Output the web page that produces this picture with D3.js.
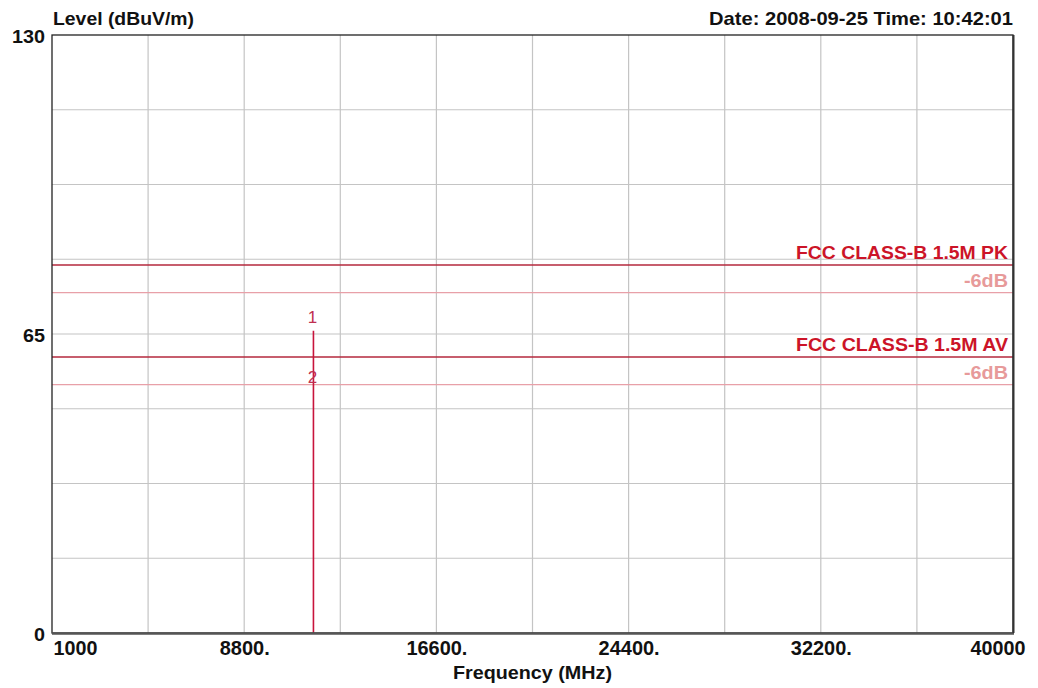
<!DOCTYPE html>
<html><head><meta charset="utf-8">
<script src="https://cdn.jsdelivr.net/npm/d3@7"></script>
<style>
html,body{margin:0;padding:0;background:#fff;}
svg{display:block;font-family:"Liberation Sans",Arial,sans-serif;}
</style></head><body>
<script>
// ---- data ----
const freqDomain = [1000, 40000];
const levelDomain = [0, 130];
const xTickValues = [1000, 8800, 16600, 24400, 32200, 40000];
const xTickLabels = ["1000", "8800.", "16600.", "24400.", "32200.", "40000"];
const xGridValues = [4900, 8800, 12700, 16600, 20500, 24400, 28300, 32200, 36100];
const yTickValues = [0, 65, 130];
const yTickLabels = ["0", "65", "130"];
const yGridValues = [16.25, 32.5, 48.75, 65, 81.25, 97.5, 113.75];
const limitNames = ["FCC CLASS-B 1.5M PK", "-6dB", "FCC CLASS-B 1.5M AV", "-6dB"];
const limitLevels = [80, 74, 60, 54];
const limitKinds = ["main", "margin", "main", "margin"];
const traceFreq = [11610, 11610];
const traceLevel = [0, 65.7];
const markerIds = ["1", "2"];
const markerFreq = [11610, 11610];
const markerLevel = [65.7, 52.6];
const titleY = "Level (dBuV/m)";
const titleX = "Frequency (MHz)";
const dateText = "Date: 2008-09-25  Time: 10:42:01";

// ---- layout ----
const W = 1038, H = 688;
const m = {left: 52, top: 35, right: 25, bottom: 55};
const pw = W - m.left - m.right, ph = H - m.top - m.bottom;

const svg = d3.select("body").append("svg").attr("width", W).attr("height", H);
const g = svg.append("g").attr("transform", `translate(${m.left},${m.top})`);

const x = d3.scaleLinear().domain(freqDomain).range([0, pw]);
const y = d3.scaleLinear().domain(levelDomain).range([ph, 0]);

// approximate label width: digits 11px, period 6px
const labelWidth = s => s.split("").reduce((a, c) => a + (c === "." ? 6 : 11), 0);

// grid
g.append("g").selectAll("line").data(xGridValues).join("line")
  .attr("x1", d => x(d)).attr("x2", d => x(d)).attr("y1", 0).attr("y2", ph)
  .attr("stroke", "#c4c4c4").attr("stroke-width", 1.2);
g.append("g").selectAll("line").data(yGridValues).join("line")
  .attr("y1", d => y(d)).attr("y2", d => y(d)).attr("x1", 0).attr("x2", pw)
  .attr("stroke", "#c4c4c4").attr("stroke-width", 1.2);

// limit lines
const limColor = k => k === "main" ? "#b4283c" : "#e8a0a8";
const limText = k => k === "main" ? "#cc1428" : "#e79a9a";
g.append("g").selectAll("line").data(limitLevels).join("line")
  .attr("x1", 0).attr("x2", pw).attr("y1", d => y(d)).attr("y2", d => y(d))
  .attr("stroke", (d, i) => limColor(limitKinds[i]))
  .attr("stroke-width", (d, i) => limitKinds[i] === "main" ? 1.6 : 1.3);
g.append("g").selectAll("text").data(limitLevels).join("text")
  .attr("x", pw - 5).attr("y", d => y(d) - 6)
  .attr("text-anchor", "end")
  .attr("font-size", 18).attr("font-weight", "bold")
  .attr("fill", (d, i) => limText(limitKinds[i]))
  .attr("textLength", (d, i) => limitKinds[i] === "main" ? 212 : 44)
  .attr("lengthAdjust", "spacingAndGlyphs")
  .text((d, i) => limitNames[i]);

// trace
const line = d3.line().x((d, i) => x(traceFreq[i])).y(d => y(d));
g.append("path").datum(traceLevel).attr("d", line)
  .attr("fill", "none").attr("stroke", "#c8143c").attr("stroke-width", 1.6);

// markers
g.append("g").selectAll("text").data(markerIds).join("text")
  .attr("x", (d, i) => x(markerFreq[i]) - 1).attr("y", (d, i) => y(markerLevel[i]) - 8)
  .attr("text-anchor", "middle").attr("font-size", 17)
  .attr("fill", "#c03050").text(d => d);

// frame
g.append("rect").attr("x", 0).attr("y", 0).attr("width", pw).attr("height", ph)
  .attr("fill", "none").attr("stroke", "#222").attr("stroke-width", 1.3);
g.append("line").attr("x1", 0).attr("x2", pw + 1).attr("y1", ph + 0.5).attr("y2", ph + 0.5)
  .attr("stroke", "#555").attr("stroke-width", 2.5);
g.append("line").attr("x1", pw + 0.5).attr("x2", pw + 0.5).attr("y1", 0).attr("y2", ph)
  .attr("stroke", "#333").attr("stroke-width", 2);

// x axis labels
const xAxis = d3.axisBottom(x).tickValues(xTickValues).tickSize(0)
  .tickFormat((d, i) => xTickLabels[i]);
const xa = g.append("g").attr("transform", `translate(0,${ph})`).call(xAxis);
xa.select(".domain").remove();
xa.selectAll("text")
  .attr("font-size", 20).attr("font-weight", "bold").attr("fill", "#111")
  .attr("font-family", "'Liberation Sans',Arial,sans-serif")
  .attr("dy", 0).attr("y", 22)
  .attr("text-anchor", (d, i) => i === 0 ? "start" : (i === xTickValues.length - 1 ? "end" : "middle"))
  .attr("dx", (d, i) => i === 0 ? 1 : (i === xTickValues.length - 1 ? 12 : 0))
  .attr("textLength", (d, i) => labelWidth(xTickLabels[i]))
  .attr("lengthAdjust", "spacingAndGlyphs");

// y axis labels
const yAxis = d3.axisLeft(y).tickValues(yTickValues).tickSize(0)
  .tickFormat((d, i) => yTickLabels[i]);
const ya = g.append("g").call(yAxis);
ya.select(".domain").remove();
ya.selectAll("text")
  .attr("font-size", 19).attr("font-weight", "bold").attr("fill", "#111")
  .attr("font-family", "'Liberation Sans',Arial,sans-serif")
  .attr("x", -7).attr("dy", "0.42em")
  .attr("textLength", (d, i) => labelWidth(yTickLabels[i]))
  .attr("lengthAdjust", "spacingAndGlyphs");

// titles
svg.append("text").attr("x", m.left + 1).attr("y", 25)
  .attr("font-size", 19).attr("font-weight", "bold").attr("fill", "#111")
  .attr("textLength", 141).attr("lengthAdjust", "spacingAndGlyphs").text(titleY);
svg.append("text").attr("x", m.left + pw).attr("y", 25).attr("text-anchor", "end")
  .attr("font-size", 19).attr("font-weight", "bold").attr("fill", "#111")
  .attr("textLength", 304).attr("lengthAdjust", "spacingAndGlyphs").text(dateText);
svg.append("text").attr("x", m.left + pw / 2).attr("y", 679).attr("text-anchor", "middle")
  .attr("font-size", 19).attr("font-weight", "bold").attr("fill", "#111")
  .attr("textLength", 159).attr("lengthAdjust", "spacingAndGlyphs").text(titleX);
</script>
</body></html>
